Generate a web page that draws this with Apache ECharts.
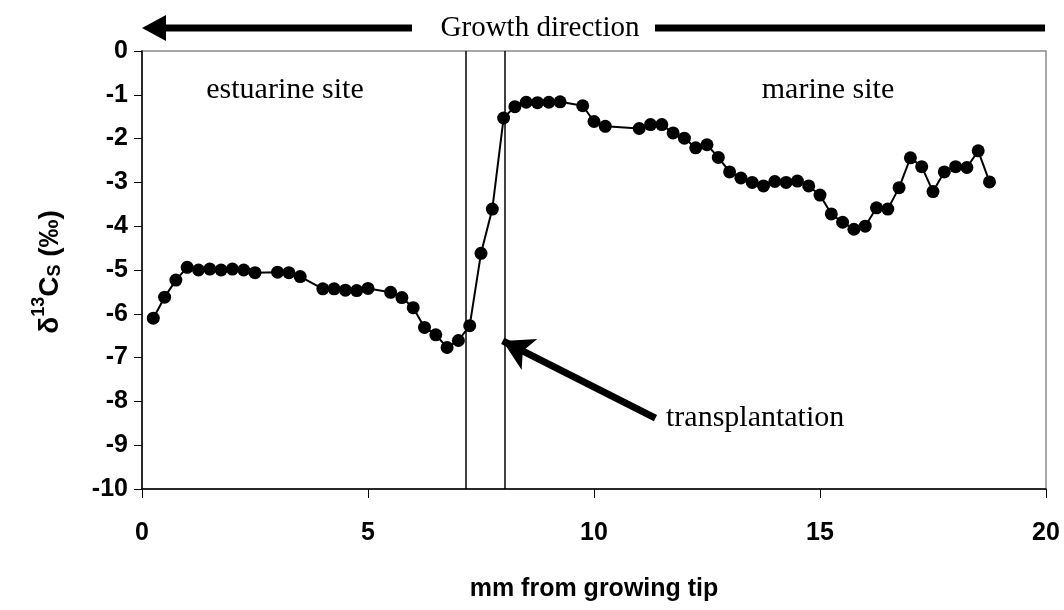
<!DOCTYPE html>
<html>
<head>
<meta charset="utf-8">
<script src="https://cdn.jsdelivr.net/npm/echarts@6/dist/echarts.min.js"></script>
<style>html,body{margin:0;padding:0;background:#fff;}#c{width:1064px;height:610px;}</style>
</head>
<body>
<div id="c"></div>
<script>
// mm from growing tip
const distances = [0.25,0.5,0.75,1.0,1.25,1.5,1.75,2.0,2.25,2.5,3.0,3.25,3.5,4.0,4.25,4.5,4.75,5.0,5.5,5.75,6.0,6.25,6.5,6.75,7.0,7.25,7.5,7.75,8.0,8.25,8.5,8.75,9.0,9.25,9.75,10.0,10.25,11.0,11.25,11.5,11.75,12.0,12.25,12.5,12.75,13.0,13.25,13.5,13.75,14.0,14.25,14.5,14.75,15.0,15.25,15.5,15.75,16.0,16.25,16.5,16.75,17.0,17.25,17.5,17.75,18.0,18.25,18.5,18.75];
// delta 13C (permil)
const d13C = [-6.10,-5.62,-5.23,-4.94,-5.00,-4.98,-5.00,-4.98,-5.00,-5.06,-5.05,-5.06,-5.15,-5.43,-5.43,-5.46,-5.47,-5.42,-5.51,-5.63,-5.86,-6.31,-6.48,-6.77,-6.61,-6.27,-4.62,-3.61,-1.53,-1.27,-1.17,-1.18,-1.17,-1.16,-1.25,-1.61,-1.72,-1.77,-1.68,-1.68,-1.87,-1.99,-2.21,-2.14,-2.43,-2.76,-2.90,-3.00,-3.08,-2.98,-3.00,-2.97,-3.08,-3.29,-3.72,-3.91,-4.07,-4.00,-3.58,-3.61,-3.12,-2.44,-2.64,-3.21,-2.76,-2.64,-2.66,-2.28,-2.99];
const xTicks = [0, 5, 10, 15, 20];
const yTicks = [0,-1,-2,-3,-4,-5,-6,-7,-8,-9,-10];
const transplantLines = [7.17, 8.03];
const arrowFrom = [11.36, -8.38];
const arrowTo = [7.98, -6.62];
const labels = { estuarine: 'estuarine site', marine: 'marine site', transplant: 'transplantation', growth: 'Growth direction' };

const chart = echarts.init(document.getElementById('c'), null, {renderer: 'canvas'});
const serif = '"Liberation Serif", "Times New Roman", serif';
const sans = '"Liberation Sans", Arial, sans-serif';
const pts = distances.map((x, i) => [x, d13C[i]]);

chart.setOption({
  animation: false,
  backgroundColor: '#fff',
  grid: { left: 142, right: 18, top: 51, bottom: 121, show: true, borderColor: '#8a8a8a', borderWidth: 1.5 },
  xAxis: {
    type: 'value', min: xTicks[0], max: xTicks[xTicks.length-1], interval: 5,
    axisLine: { show: true, onZero: false, lineStyle: { color: '#000', width: 1.5 } },
    axisTick: { show: true, length: 9, lineStyle: { color: '#000', width: 1 } },
    splitLine: { show: false },
    axisLabel: { margin: 32, fontFamily: sans, fontWeight: 'bold', fontSize: 25, color: '#000' },
    name: 'mm from growing tip', nameLocation: 'middle', nameGap: 88,
    nameTextStyle: { fontFamily: sans, fontWeight: 'bold', fontSize: 25, color: '#000' }
  },
  yAxis: {
    type: 'value', min: yTicks[yTicks.length-1], max: yTicks[0], interval: 1,
    axisLine: { show: true, onZero: false, lineStyle: { color: '#000', width: 1.5 } },
    axisTick: { show: true, length: 8, lineStyle: { color: '#000', width: 1 } },
    splitLine: { show: false },
    axisLabel: { margin: 14, fontFamily: sans, fontWeight: 'bold', fontSize: 25, color: '#000' }
  },
  graphic: [
    { type: 'text', x: 47, y: 272, rotation: Math.PI/2,
      style: { text: '{a|δ}{sup|13}{a|C}{sub|S}{a| (‰)}', textAlign: 'center', textVerticalAlign: 'middle',
        rich: {
          a: { fontFamily: sans, fontWeight: 'bold', fontSize: 28, fill: '#000', lineHeight: 34, verticalAlign: 'bottom' },
          sup: { fontFamily: sans, fontWeight: 'bold', fontSize: 18, fill: '#000', verticalAlign: 'top', lineHeight: 34 },
          sub: { fontFamily: sans, fontWeight: 'bold', fontSize: 18, fill: '#000', verticalAlign: 'bottom', lineHeight: 26 }
        } } },
    { type: 'text', x: 285, y: 90, style: { text: labels.estuarine, fontFamily: serif, fontSize: 30, fill: '#000', textAlign: 'center', textVerticalAlign: 'middle' } },
    { type: 'text', x: 828, y: 90, style: { text: labels.marine, fontFamily: serif, fontSize: 30, fill: '#000', textAlign: 'center', textVerticalAlign: 'middle' } },
    { type: 'text', x: 666, y: 418, style: { text: labels.transplant, fontFamily: serif, fontSize: 30, fill: '#000', textAlign: 'left', textVerticalAlign: 'middle' } },
    { type: 'text', x: 540, y: 28, style: { text: labels.growth, fontFamily: serif, fontSize: 29, fill: '#000', textAlign: 'center', textVerticalAlign: 'middle' } },
    { type: 'line', shape: { x1: 160, y1: 28, x2: 412, y2: 28 }, style: { stroke: '#000', lineWidth: 7 } },
    { type: 'polygon', shape: { points: [[142, 28], [166, 15], [166, 41]] }, style: { fill: '#000' } },
    { type: 'line', shape: { x1: 655, y1: 28, x2: 1045, y2: 28 }, style: { stroke: '#000', lineWidth: 7 } }
  ],
  series: [
    {
      type: 'line', data: pts, symbol: 'circle', symbolSize: 13,
      itemStyle: { color: '#000' }, lineStyle: { color: '#000', width: 2 },
      z: 5
    },
    {
      type: 'line', data: [], silent: true,
      markLine: {
        silent: true, symbol: ['none', 'none'], label: { show: false },
        lineStyle: { color: '#000', width: 1.5, type: 'solid' },
        data: transplantLines.map(v => ({ xAxis: v }))
      }
    },
    {
      type: 'line', data: [], silent: true,
      markLine: {
        silent: true, symbol: ['none', 'arrow'], symbolSize: [26, 30], label: { show: false },
        lineStyle: { color: '#000', width: 7, type: 'solid' },
        data: [[{ coord: arrowFrom }, { coord: arrowTo }]]
      }
    }
  ]
});
</script>
</body>
</html>
